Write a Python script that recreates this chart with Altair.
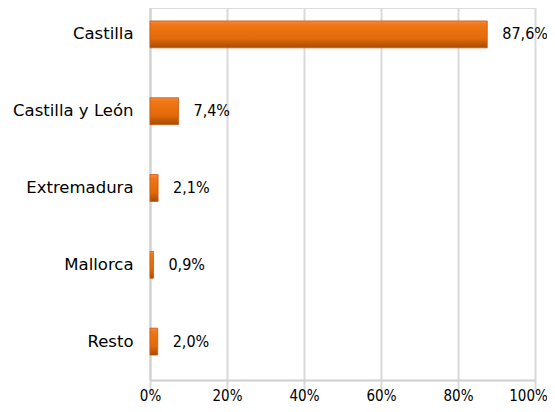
import altair as alt
import pandas as pd

categories = ["Castilla", "Castilla y León", "Extremadura", "Mallorca", "Resto"]
values = [87.6, 7.4, 2.1, 0.9, 2.0]
x_ticks = [0, 20, 40, 60, 80, 100]

df = pd.DataFrame({"cat": categories, "v": values})

FONT = "DejaVu Sans"
FONT_C = "DejaVu Sans Condensed"

y_enc = alt.Y(
    "cat:N",
    sort=categories,
    scale=alt.Scale(range=[-12, 372], paddingInner=0.65, paddingOuter=0.325),
    axis=alt.Axis(title=None, ticks=False, labelPadding=17, labelFontSize=16.5,
                  labelFont=FONT, labelColor="#000000", domainColor="#D0D0D0",
                  domainWidth=2, grid=False),
)

x_enc = alt.X(
    "v:Q",
    scale=alt.Scale(domain=[0, 100], nice=False),
    axis=alt.Axis(title=None, values=x_ticks, labelExpr="datum.value + '%'",
                  ticks=False, labelPadding=8, labelFontSize=15, labelFont=FONT_C,
                  labelColor="#000000", grid=True, gridColor="#D9D9D9",
                  gridWidth=2, domainColor="#D0D0D0", domainWidth=2,
                  labelFlush=False,
                  labelOffset={"condition": {"test": "datum.value == 100", "value": -7},
                               "value": 0}),
)

grad = alt.Gradient(
    gradient="linear", x1=0, x2=0, y1=0, y2=1,
    stops=[
        alt.GradientStop(offset=0, color="#F58A3A"),
        alt.GradientStop(offset=0.15, color="#F07514"),
        alt.GradientStop(offset=0.65, color="#E36A0A"),
        alt.GradientStop(offset=1, color="#A64C06"),
    ],
)

bars = alt.Chart(df).mark_bar(color=grad, stroke="#C55A11", strokeWidth=0.8).encode(
    x=x_enc, y=y_enc
)

labels = alt.Chart(df).transform_calculate(
    lbl="replace(format(datum.v, '.1f'), '.', ',') + '%'"
).mark_text(align="left", baseline="middle", dx=15, fontSize=16, font=FONT_C,
            color="#000000").encode(
    x=alt.X("v:Q"), y=alt.Y("cat:N", sort=categories), text="lbl:N"
)

chart = (bars + labels).properties(
    width=385, height=372,
    autosize=alt.AutoSizeParams(type="none"),
    padding={"left": 142, "top": 0, "right": 12, "bottom": 24},
).configure_view(stroke=None).configure(background="white")

chart.save("out.html", embed_options={"renderer": "svg", "actions": False})
